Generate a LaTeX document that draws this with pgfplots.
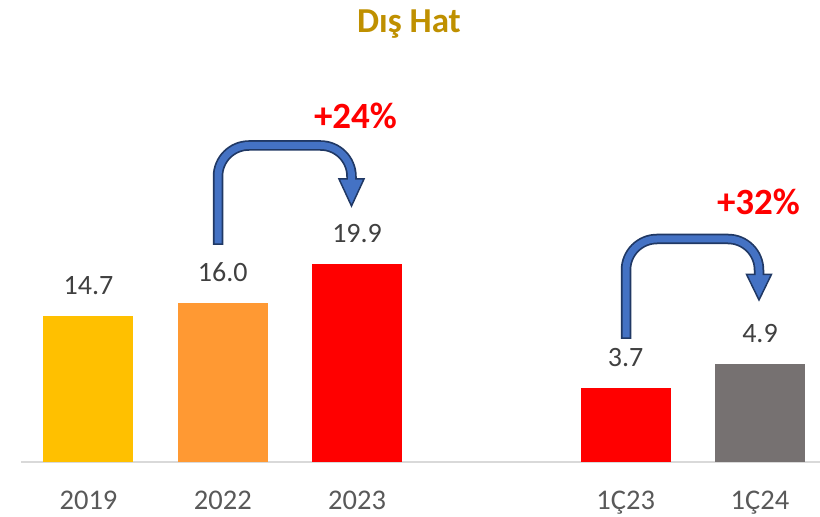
\documentclass[border=0pt]{standalone}
\usepackage{pgfplots}
\pgfplotsset{compat=1.18}
\usepackage{fontspec}
\setmainfont{Carlito}
\definecolor{cyellow}{HTML}{FFC000}
\definecolor{corange}{HTML}{FF9933}
\definecolor{cred}{HTML}{FF0000}
\definecolor{cgray}{HTML}{767171}
\definecolor{linegray}{HTML}{D9D9D9}
\definecolor{labgray}{HTML}{404040}
\definecolor{tickgray}{HTML}{595959}
\definecolor{titlegold}{HTML}{BF9000}
\definecolor{arrblue}{HTML}{4472C4}
\definecolor{arrnavy}{HTML}{203864}
\begin{document}
\begin{tikzpicture}
\path[use as bounding box] (0,0) rectangle (820bp,517bp);
\pgfplotsset{
  mybars/.style={
    scale only axis,
    width=798.4bp, height=400bp,
    at={(21.35bp,55bp)}, anchor=south west,
    xmin=-0.5, xmax=5.445, ymin=0,
    enlarge y limits=false,
    ybar, bar width=90bp,
    nodes near coords,
    /pgf/number format/.cd, fixed, fixed zerofill, precision=1, assume math mode=true,
    /pgfplots/.cd,
    every node near coord/.append style={font=\fontsize{28bp}{33bp}\selectfont, text=labgray, inner sep=0pt, anchor=south, yshift=21bp},
    clip=false,
  }
}
\begin{axis}[mybars, ymax=40.2,
  axis x line=bottom, axis y line=none,
  axis line style={-, draw=linegray, line width=1.4bp},
  xtick={0,1,2,4,5},
  xticklabels={2019,2022,2023,1Ç23,1Ç24},
  major tick length=0pt,
  xtick style={draw=none},
  xticklabel style={font=\fontsize{28.5bp}{34bp}\selectfont, text=tickgray, anchor=base, inner sep=0pt, yshift=-47bp},
]
\addplot[fill=cyellow, draw=none, bar shift=0pt] coordinates {(0,14.7)};
\addplot[fill=corange, draw=none, bar shift=0pt] coordinates {(1,16.0)};
\addplot[fill=cred, draw=none, bar shift=0pt] coordinates {(2,19.9)};
\end{axis}
\begin{axis}[mybars, ymax=20.05, hide axis]
\addplot[fill=cred, draw=none, bar shift=0pt] coordinates {(4,3.7)};
\addplot[fill=cgray, draw=none, bar shift=0pt] coordinates {(5,4.9)};
\end{axis}
\begin{scope}[x=1bp, y=-1bp, yshift=517bp]
  \node[anchor=base, font=\bfseries\fontsize{35bp}{40bp}\selectfont, text=titlegold] at (409,33) {Dış Hat};
  \node[font=\bfseries\fontsize{37bp}{42bp}\selectfont, text=cred] at (355.5,116) {+24\%};
  \node[font=\bfseries\fontsize{37bp}{42bp}\selectfont, text=cred] at (758.5,201.5) {+32\%};
  % arrow 1
  \draw[arrnavy, line width=10.5bp, rounded corners=31bp] (218,245) -- (218,145.5) -- (351.5,145.5) -- (351.5,179);
  \filldraw[fill=arrblue, draw=arrnavy, line width=1.5bp, line join=miter] (339,179) -- (364,179) -- (351.5,206) -- cycle;
  \draw[arrblue, line width=7bp, rounded corners=31bp] (218,243.5) -- (218,145.5) -- (351.5,145.5) -- (351.5,180.5);
  % arrow 2
  \draw[arrnavy, line width=10.5bp, rounded corners=31bp] (626,339) -- (626,239) -- (759,239) -- (759,274.3);
  \filldraw[fill=arrblue, draw=arrnavy, line width=1.5bp, line join=miter] (746.5,274.3) -- (771.5,274.3) -- (759,300) -- cycle;
  \draw[arrblue, line width=7bp, rounded corners=31bp] (626,337.5) -- (626,239) -- (759,239) -- (759,275.8);
\end{scope}
\end{tikzpicture}
\end{document}
